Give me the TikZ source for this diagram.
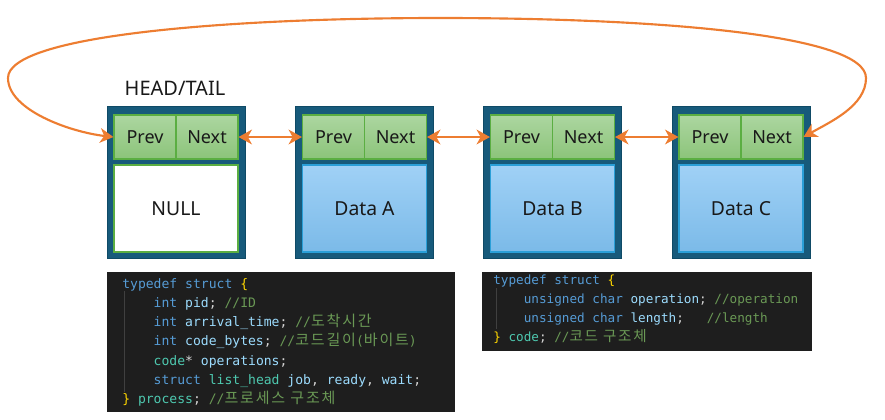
\documentclass[tikz,border=0pt]{standalone}
\usepackage{fontspec}
\usepackage{xcolor}
\setmainfont{Noto Sans}
\setmonofont{DejaVu Sans Mono}
\newfontfamily\krfont{Noto Sans CJK KR}[Scale=1.15, LetterSpace=12]
\usetikzlibrary{arrows.meta}
\definecolor{linkorange}{HTML}{ED7D31}
\definecolor{frameblue}{HTML}{175A7B}
\definecolor{frameedge}{HTML}{0F4A66}
\definecolor{greentop}{HTML}{ACD6A0}
\definecolor{greenbot}{HTML}{8CC47A}
\definecolor{greenedge}{HTML}{5BAE42}
\definecolor{bluetop}{HTML}{A0D1F6}
\definecolor{bluebot}{HTML}{7BBAE8}
\definecolor{blueedge}{HTML}{2A9FD8}
\definecolor{codebg}{HTML}{1E1E1E}
\definecolor{codekw}{HTML}{569CD6}
\definecolor{codetype}{HTML}{4EC9B0}
\definecolor{codevar}{HTML}{9CDCFE}
\definecolor{codecom}{HTML}{6A9955}
\definecolor{codebrace}{HTML}{FFD700}
\definecolor{codetxt}{HTML}{D4D4D4}
\definecolor{codeguide}{HTML}{404040}
\newcommand{\ckw}[1]{\textcolor{codekw}{#1}}
\newcommand{\cty}[1]{\textcolor{codetype}{#1}}
\newcommand{\cvar}[1]{\textcolor{codevar}{#1}}
\newcommand{\ccom}[1]{\textcolor{codecom}{#1}}
\newcommand{\cbr}[1]{\textcolor{codebrace}{#1}}
\newcommand{\kr}[1]{{\krfont #1}}
\newcommand{\ind}{\phantom{xxxx}}
\tikzset{
    list_frame/.style={draw=frameedge, fill=frameblue, line width=0.6pt, minimum width=103.5pt, minimum height=114pt, inner sep=0pt},
    base_cell/.style={line width=0.8pt, inner sep=0pt, text=black!90, font=\fontsize{14.5}{17}\selectfont},
    ptr_cell/.style={base_cell, draw=greenedge, top color=greentop, bottom color=greenbot, minimum width=46.5pt, minimum height=33pt, font=\fontsize{13.5}{16}\selectfont},
    data_cell/.style={base_cell, draw=blueedge, top color=bluetop, bottom color=bluebot, minimum width=93pt, minimum height=65.25pt},
    null_cell/.style={base_cell, draw=greenedge, fill=white, minimum width=93pt, minimum height=65.25pt},
    link_arrow/.style={<->, line width=1.8pt, draw=linkorange},
    loop_arrow/.style={link_arrow, line width=1.6pt},
    code_box/.style={fill=codebg, draw=none, inner sep=0pt},
    code_line/.style={anchor=base west, inner sep=0pt, text=codetxt, font=\ttfamily\fontsize{9.8}{11}\selectfont},
    code_small/.style={code_line, font=\ttfamily\fontsize{9.5}{11}\selectfont},
    code_guide/.style={draw=codeguide, line width=0.6pt}
}
\begin{document}
\begin{tikzpicture}[x=0.75pt, y=-0.75pt, >={Stealth[length=10pt, width=11pt, inset=3pt]}]
    \useasboundingbox (0,0) rectangle (885,419);
    \node[font=\fontsize{15}{18}\selectfont, text=black!90] (head_label) at (175,88) {HEAD/TAIL};
    \node[list_frame] (frame_null) at (176,182) {};
    \node[ptr_cell] (prev_null) at (145,137) {Prev};
    \node[ptr_cell] (next_null) at (207,137) {Next};
    \node[null_cell] (data_null) at (176,208.5) {NULL};
    \node[list_frame] (frame_a) at (364.5,182) {};
    \node[ptr_cell] (prev_a) at (333.5,137) {Prev};
    \node[ptr_cell] (next_a) at (395.5,137) {Next};
    \node[data_cell] (data_a) at (364.5,208.5) {Data A};
    \node[list_frame] (frame_b) at (552.5,182) {};
    \node[ptr_cell] (prev_b) at (521.5,137) {Prev};
    \node[ptr_cell] (next_b) at (583.5,137) {Next};
    \node[data_cell] (data_b) at (552.5,208.5) {Data B};
    \node[list_frame] (frame_c) at (741,182) {};
    \node[ptr_cell] (prev_c) at (710,137) {Prev};
    \node[ptr_cell] (next_c) at (772,137) {Next};
    \node[data_cell] (data_c) at (741,208.5) {Data C};
    \draw[link_arrow] (next_null.east) -- (prev_a.west);
    \draw[link_arrow] (next_a.east) -- (prev_b.west);
    \draw[link_arrow] (next_b.east) -- (prev_c.west);
    \draw[loop_arrow] (next_c.east) .. controls (830,122) and (866,106) .. (866,78)
        .. controls (866,35) and (660,18) .. (440,18)
        .. controls (230,18) and (8,35) .. (8,78)
        .. controls (8,110) and (70,132) .. (prev_null.west);
    % process struct
    \node[code_box, minimum width=261pt, minimum height=105pt] (code_proc) at (281,342) {};
    \draw[code_guide] (124,291) -- (124,392);
    \node[code_line] (proc_l1) at (122,288) {\ckw{typedef struct} \cbr{\{}};
    \node[code_line] (proc_l2) at (122,307.3) {\ind\ckw{int} \cvar{pid}; \ccom{//ID}};
    \node[code_line] (proc_l3) at (122,326.6) {\ind\ckw{int} \cvar{arrival\_time}; \ccom{//\kr{도착시간}}};
    \node[code_line] (proc_l4) at (122,345.9) {\ind\ckw{int} \cvar{code\_bytes}; \ccom{//\kr{코드길이}(\kr{바이트})}};
    \node[code_line] (proc_l5) at (122,365.2) {\ind\cty{code}* \cvar{operations};};
    \node[code_line] (proc_l6) at (122,384.5) {\ind\ckw{struct} \cty{list\_head} \cvar{job}, \cvar{ready}, \cvar{wait};};
    \node[code_line] (proc_l7) at (122,403.8) {\cbr{\}} \cty{process}; \ccom{//\kr{프로세스 구조체}}};
    % code struct
    \node[code_box, minimum width=247.5pt, minimum height=59.25pt] (code_op) at (647,311.5) {};
    \draw[code_guide] (496,288) -- (496,329);
    \node[code_small] (op_l1) at (493,284) {\ckw{typedef struct} \cbr{\{}};
    \node[code_small] (op_l2) at (493,303) {\ind\ckw{unsigned char} \cvar{operation}; \ccom{//operation}};
    \node[code_small] (op_l3) at (493,322) {\ind\ckw{unsigned char} \cvar{length};\ \ \ \ccom{//length}};
    \node[code_small] (op_l4) at (493,341) {\cbr{\}} \cty{code}; \ccom{//\kr{코드 구조체}}};
\end{tikzpicture}
\end{document}
